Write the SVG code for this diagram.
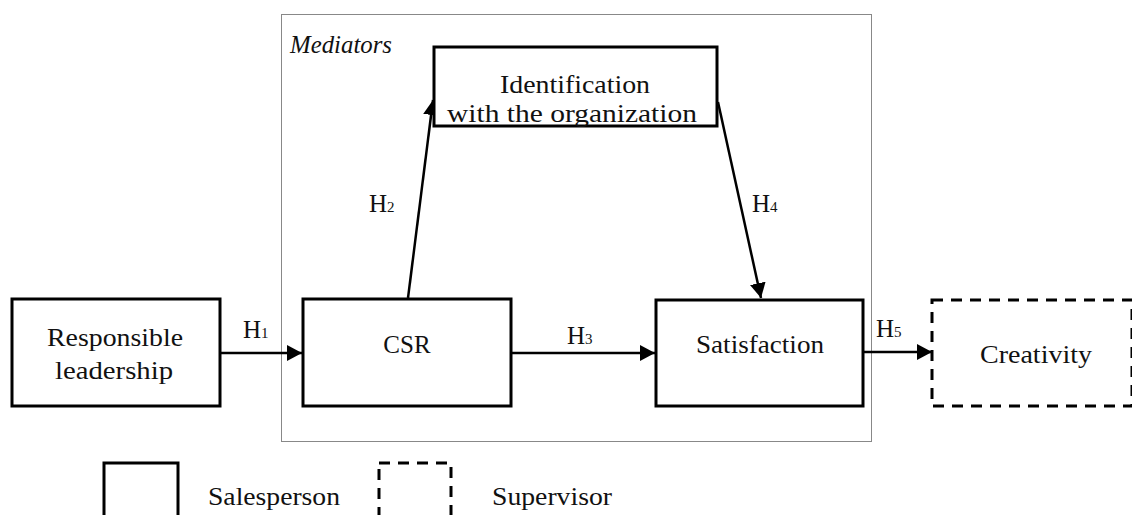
<svg xmlns="http://www.w3.org/2000/svg" width="1132" height="515" viewBox="0 0 1132 515">
<defs>
<marker id="ah" viewBox="0 0 15 16" refX="15" refY="8" markerWidth="15" markerHeight="16" markerUnits="userSpaceOnUse" orient="auto">
<path d="M0,0 L15,8 L0,16 z" fill="#000"/>
</marker>
<style>
text{font-family:"Liberation Serif","DejaVu Serif",serif;font-size:25px;fill:#111}
.box{fill:#fff;stroke:#000;stroke-width:3}
.dash{fill:#fff;stroke:#000;stroke-width:3;stroke-dasharray:11 8}
.conn{stroke:#000;stroke-width:2.5;fill:none;marker-end:url(#ah)}
.sub{font-size:15px}
</style>
</defs>
<rect width="1132" height="515" fill="#fff"/>
<g id="mediators">
<rect x="281.5" y="14.5" width="590" height="427" fill="none" stroke="#888" stroke-width="1"/>
<text x="290" y="53" font-style="italic" textLength="102" lengthAdjust="spacingAndGlyphs">Mediators</text>
</g>
<g id="connectors">
<line class="conn" x1="221" y1="353" x2="302" y2="353"/>
<line class="conn" x1="512" y1="353" x2="655" y2="353"/>
<line class="conn" x1="864" y1="352" x2="932" y2="352"/>
<line class="conn" x1="408" y1="298" x2="433" y2="100"/>
<line class="conn" x1="718" y1="102" x2="761" y2="298"/>
<text x="243" y="338">H<tspan class="sub">1</tspan></text>
<text x="369" y="212">H<tspan class="sub">2</tspan></text>
<text x="567" y="344">H<tspan class="sub">3</tspan></text>
<text x="752" y="212">H<tspan class="sub">4</tspan></text>
<text x="876" y="337">H<tspan class="sub">5</tspan></text>
</g>
<g id="responsible">
<rect class="box" x="12" y="299" width="208" height="107"/>
<text x="47" y="346" textLength="136" lengthAdjust="spacingAndGlyphs">Responsible</text>
<text x="55" y="379" textLength="118" lengthAdjust="spacingAndGlyphs">leadership</text>
</g>
<g id="csr">
<rect class="box" x="303" y="299" width="208" height="107"/>
<text x="407" y="353" text-anchor="middle" font-size="26">CSR</text>
</g>
<g id="identification">
<rect class="box" x="434" y="47" width="283" height="79"/>
<text x="500" y="93" textLength="150" lengthAdjust="spacingAndGlyphs">Identification</text>
<text x="447" y="122" textLength="250" lengthAdjust="spacingAndGlyphs">with the organization</text>
</g>
<g id="satisfaction">
<rect class="box" x="656" y="300" width="207" height="106"/>
<text x="696" y="353" textLength="128" lengthAdjust="spacingAndGlyphs">Satisfaction</text>
</g>
<g id="creativity">
<rect class="dash" x="932" y="300" width="200" height="106"/>
<text x="980" y="363" textLength="112" lengthAdjust="spacingAndGlyphs">Creativity</text>
</g>
<g id="legend">
<rect class="box" x="104" y="463" width="74" height="60"/>
<text x="208" y="505" textLength="132" lengthAdjust="spacingAndGlyphs">Salesperson</text>
<rect class="dash" x="379" y="463" width="72" height="60"/>
<text x="492" y="505" textLength="120" lengthAdjust="spacingAndGlyphs">Supervisor</text>
</g>
</svg>
